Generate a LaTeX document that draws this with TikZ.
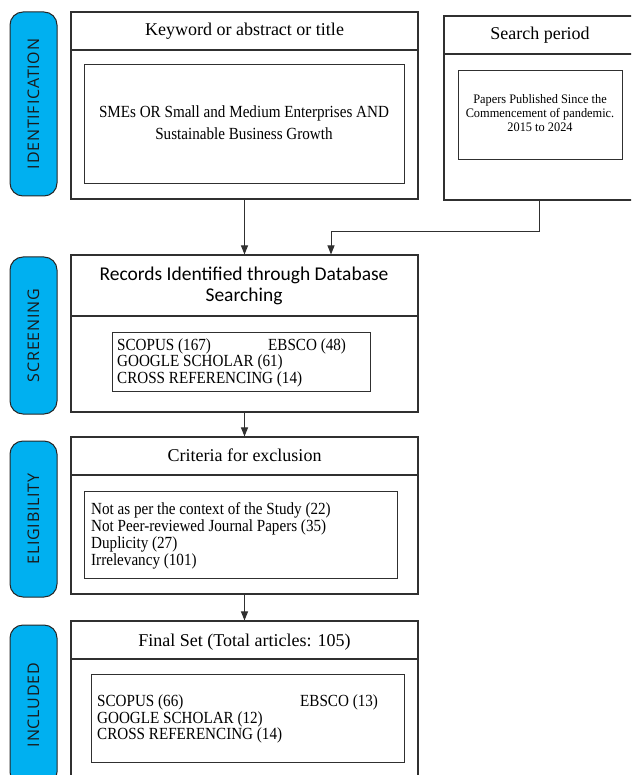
\documentclass[tikz,border=0pt]{standalone}
\usepackage{fontspec}
\setmainfont{Liberation Serif}
\newfontfamily\condserif[FakeStretch=0.89]{Liberation Serif}
\newfontfamily\smallserif[FakeStretch=0.95]{Liberation Serif}
\newfontfamily\calib{Carlito}
\newfontfamily\pillfont[LetterSpace=5]{Open Sans}
\usetikzlibrary{arrows.meta,calc}
\definecolor{pillblue}{HTML}{00B0F0}
\definecolor{linegray}{HTML}{303030}
\begin{document}
\begin{tikzpicture}[x=1pt,y=-1pt,
  outerbox/.style={draw=linegray, line width=1.1pt, inner sep=0pt, rectangle},
  innerbox/.style={draw=linegray, line width=1pt, inner sep=0pt, rectangle},
  pill/.style={draw=black!85, fill=pillblue, line width=1pt, rounded corners=13pt,
    inner sep=0pt, rotate=90, minimum height=47pt,
    font=\pillfont\fontsize{16}{19}\selectfont, text=black!90},
  head/.style={font=\fontsize{18}{21}\selectfont, anchor=base, inner sep=0pt},
  recs/.style={font=\calib\fontsize{19.5}{21}\selectfont, anchor=base, inner sep=0pt},
  body/.style={font=\condserif\fontsize{17}{22}\selectfont, anchor=base, inner sep=0pt},
  small/.style={font=\smallserif\fontsize{13}{14}\selectfont, anchor=base, inner sep=0pt},
  lst/.style={font=\condserif\fontsize{17}{20}\selectfont, anchor=base west, inner sep=0pt},
  arr/.style={draw=linegray, line width=1pt, -{Triangle[length=9pt,width=7pt]}}]
\useasboundingbox (0,0) rectangle (631,775);
\begin{scope}
\clip (0,0) rectangle (631,775);

% ---------- phase pills ----------
\node[pill, minimum width=184pt] (pid) at (33.5,104) {IDENTIFICATION};
\node[pill, minimum width=157pt] (pscr) at (33.5,335.5) {SCREENING};
\node[pill, minimum width=156pt] (pel) at (33.5,519) {ELIGIBILITY};
\node[pill, minimum width=160pt] (pin) at (33.5,705) {INCLUDED};

% ---------- identification ----------
\node[outerbox, minimum width=347pt, minimum height=187pt] (kw) at (244.5,105.5) {};
\draw[draw=linegray, line width=1.1pt] (kw.west |- 0,50) -- (kw.east |- 0,50);
\node[head] (kwh) at (244.5,36) {Keyword or abstract or title};
\node[innerbox, minimum width=320pt, minimum height=119pt] (kwi) at (244,124.5) {};
\node[body] (kw1) at (244,117.3) {SMEs OR Small and Medium Enterprises AND};
\node[body] (kw2) at (244,139.5) {Sustainable Business Growth};

\node[outerbox, minimum width=206pt, minimum height=184pt] (sp) at (547,108) {};
\draw[draw=linegray, line width=1.1pt] (sp.west |- 0,54) -- (sp.east |- 0,54);
\node[head] (sph) at (540,40) {Search period};
\node[innerbox, minimum width=164pt, minimum height=89pt] (spi) at (540,115.5) {};
\node[small] (sp1) at (540,103.5) {Papers Published Since the};
\node[small] (sp2) at (540,117.5) {Commencement of pandemic.};
\node[small] (sp3) at (540,131.5) {2015 to 2024};

% ---------- screening ----------
\node[outerbox, minimum width=347pt, minimum height=157pt] (scr) at (244.5,333.5) {};
\draw[draw=linegray, line width=1.1pt] (scr.west |- 0,316) -- (scr.east |- 0,316);
\node[recs] (scrh1) at (244,280.7) {Records Identified through Database};
\node[recs] (scrh2) at (244,301.7) {Searching};
\node[innerbox, minimum width=258pt, minimum height=59pt] (scri) at (241,361.5) {};
\node[lst] (s1) at (117,350) {SCOPUS (167)};
\node[lst] (s2) at (268,350) {EBSCO (48)};
\node[lst] (s3) at (117,366.5) {GOOGLE SCHOLAR (61)};
\node[lst] (s4) at (117,383) {CROSS REFERENCING (14)};

% ---------- eligibility ----------
\node[outerbox, minimum width=347pt, minimum height=157pt] (el) at (244.5,515.5) {};
\draw[draw=linegray, line width=1.1pt] (el.west |- 0,475) -- (el.east |- 0,475);
\node[head] (elh) at (244.5,461.7) {Criteria for exclusion};
\node[innerbox, minimum width=313pt, minimum height=87pt] (eli) at (240.5,534.5) {};
\node[lst] (e1) at (91,514) {Not as per the context of the Study (22)};
\node[lst] (e2) at (91,531) {Not Peer-reviewed Journal Papers (35)};
\node[lst] (e3) at (91,548) {Duplicity (27)};
\node[lst] (e4) at (91,565) {Irrelevancy (101)};

% ---------- included ----------
\node[outerbox, minimum width=347pt, minimum height=164pt] (inc) at (244.5,703) {};
\draw[draw=linegray, line width=1.1pt] (inc.west |- 0,659) -- (inc.east |- 0,659);
\node[head] (inch) at (244.5,646) {Final Set (Total articles: 105)};
\node[innerbox, minimum width=313pt, minimum height=88pt] (inci) at (247.5,718) {};
\node[lst] (i1) at (97,706.5) {SCOPUS (66)};
\node[lst] (i2) at (300,706.5) {EBSCO (13)};
\node[lst] (i3) at (97,723.2) {GOOGLE SCHOLAR (12)};
\node[lst] (i4) at (97,739.9) {CROSS REFERENCING (14)};

% ---------- connectors ----------
\coordinate (spo) at ($(sp.south west)+(96,0)$);
\coordinate (j) at (331,232);
\draw[arr] (kw.south) -- (scr.north);
\draw[arr] (spo) |- (j) -- (j |- scr.north);
\draw[arr] (scr.south) -- (el.north);
\draw[arr] (el.south) -- (inc.north);
\end{scope}
\end{tikzpicture}
\end{document}
